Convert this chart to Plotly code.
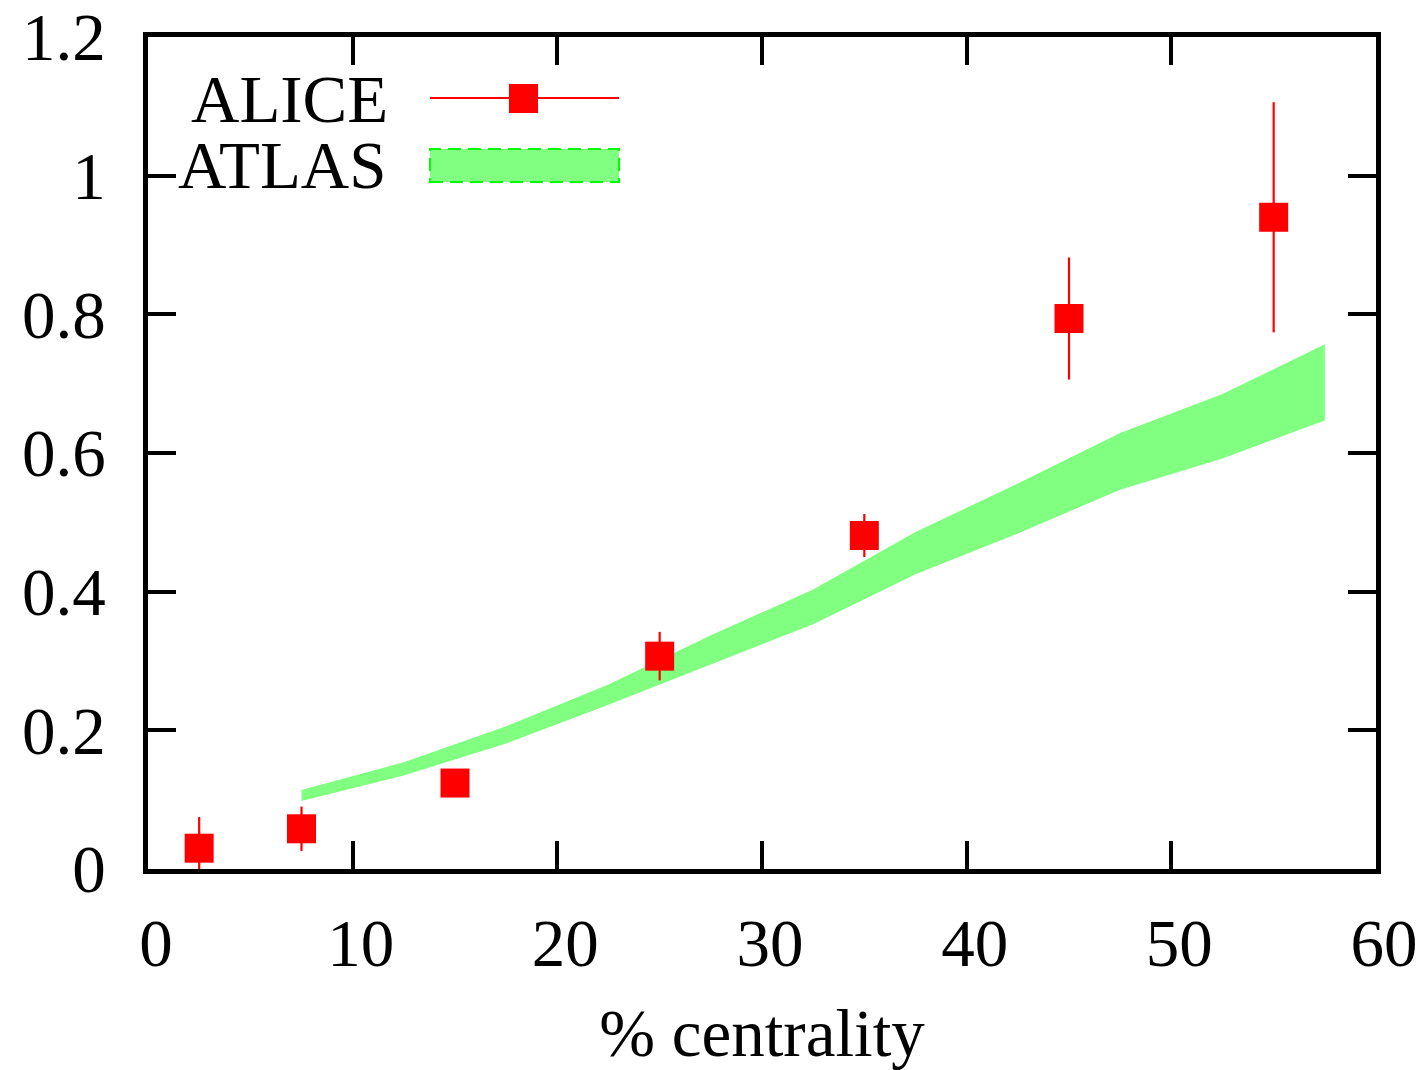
import plotly.graph_objects as go

# ALICE measurements (centrality bin centres, values, symmetric errors)
alice_x = [2.5, 7.5, 15, 25, 35, 45, 55]
alice_y = [0.030, 0.058, 0.124, 0.307, 0.481, 0.794, 0.940]
alice_err = [0.045, 0.032, 0.015, 0.035, 0.031, 0.088, 0.166]

# ATLAS band: lower and upper edges at each centrality point
atlas_x = [7.5, 12.5, 17.5, 22.5, 27.5, 32.5, 37.5, 42.5, 47.5, 52.5, 57.5]
atlas_hi = [0.114, 0.154, 0.206, 0.266, 0.337, 0.403, 0.486, 0.556, 0.629, 0.685, 0.757]
atlas_lo = [0.098, 0.135, 0.181, 0.237, 0.295, 0.353, 0.425, 0.484, 0.547, 0.592, 0.647]

x_ticks = [0, 10, 20, 30, 40, 50, 60]
y_ticks = [0, 0.2, 0.4, 0.6, 0.8, 1.0, 1.2]

FONT = "Liberation Serif"
FS = 67
BAND = "#80ff80"
RED = "#ff0000"

fig = go.Figure()

fig.add_trace(go.Scatter(
    x=atlas_x + atlas_x[::-1],
    y=atlas_hi + atlas_lo[::-1],
    fill="toself", fillcolor=BAND,
    line=dict(width=0), mode="lines",
    hoverinfo="skip", showlegend=False,
))

fig.add_trace(go.Scatter(
    x=alice_x, y=alice_y, mode="markers",
    marker=dict(symbol="square", size=29, color=RED, line=dict(width=0)),
    error_y=dict(type="data", array=alice_err, color=RED, thickness=2.2, width=0),
    showlegend=False,
))

# Plot area in pixels: x 148..1376, y 37..869
L, R, T, B = 148, 1376, 37, 869
W, H = R - L, B - T


def px(xp):
    return (xp - L) / W


def py(yp):
    return (B - yp) / H


shapes = [
    # ALICE key: line and square
    dict(type="line", xref="paper", yref="paper",
         x0=px(430), x1=px(619), y0=py(98), y1=py(98),
         line=dict(color=RED, width=2)),
    dict(type="rect", xref="paper", yref="paper",
         x0=px(509), x1=px(538), y0=py(113), y1=py(84),
         fillcolor=RED, line=dict(width=0)),
    # ATLAS key: filled box with dashed border
    dict(type="rect", xref="paper", yref="paper",
         x0=px(430), x1=px(619), y0=py(182), y1=py(149),
         fillcolor=BAND, line=dict(color="#00ff00", width=2, dash="13px,7px")),
]

# Legend labels, right-aligned to the left of their keys
annotations = [
    dict(text="ALICE", xref="paper", yref="paper", x=px(390), y=py(99),
         xanchor="right", yanchor="middle", showarrow=False, height=62,
         font=dict(family=FONT, size=FS, color="black")),
    dict(text="ATLAS", xref="paper", yref="paper", x=px(388), y=py(165),
         xanchor="right", yanchor="middle", showarrow=False, height=62,
         font=dict(family=FONT, size=FS, color="black")),
]

axis_common = dict(
    showgrid=False, zeroline=False, automargin=False,
    showline=True, linecolor="black", linewidth=4.5, mirror="allticks",
    ticks="inside", ticklen=28, tickwidth=4, tickcolor="black",
    tickfont=dict(family=FONT, size=FS, color="black"),
)

fig.update_layout(
    width=1427, height=1070,
    margin=dict(l=L, r=1427 - R, t=T, b=1070 - B),
    paper_bgcolor="white", plot_bgcolor="white",
    shapes=shapes, annotations=annotations,
    xaxis=dict(range=[0, 60], tickvals=x_ticks, ticktext=[str(v) for v in x_ticks],
               title=dict(text="% centrality", font=dict(family=FONT, size=FS, color="black"),
                          standoff=43),
               ticklabelshift=8, ticklabelstandoff=12, **axis_common),
    yaxis=dict(range=[0, 1.2], tickvals=y_ticks, ticktext=["0", "0.2", "0.4", "0.6", "0.8", "1", "1.2"],
               ticklabelstandoff=24, **axis_common),
)

fig.write_html("out.html")
